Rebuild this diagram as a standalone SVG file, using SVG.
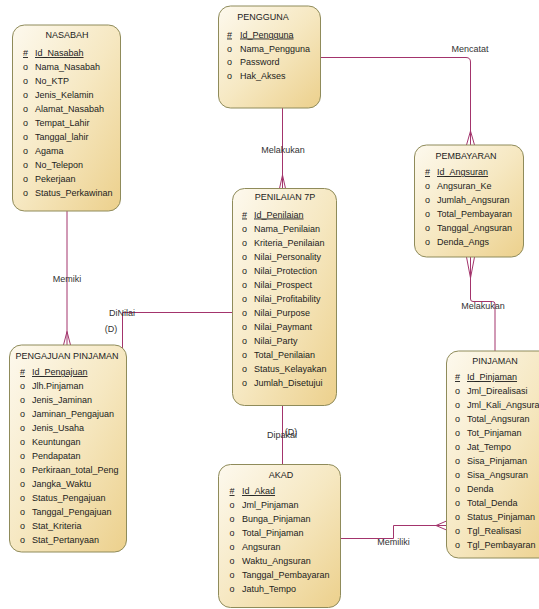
<svg xmlns="http://www.w3.org/2000/svg" width="539" height="609" viewBox="0 0 539 609">
<defs>
<linearGradient id="g" x1="0" y1="0" x2="1" y2="1">
<stop offset="0" stop-color="#fdf9ee"/>
<stop offset="0.5" stop-color="#f6e8c2"/>
<stop offset="1" stop-color="#ecd08c"/>
</linearGradient>
</defs>
<style>
text{font-family:"Liberation Sans",Arial,sans-serif;font-size:9px;fill:#1c1c1c}
.box{fill:url(#g);stroke:#8f8b5a;stroke-width:1}
.t{text-anchor:middle}
.u{text-decoration:underline}
.c{fill:none;stroke:#a3346c;stroke-width:1}
.l{text-anchor:middle;fill:#333}
</style>
<rect width="539" height="609" fill="#ffffff"/>
<g id="connectors">
<path class="c" d="M320.5,57.5 H466 Q470.5,57.5 470.5,62 V145 M470.5,131 L466.5,145 M470.5,131 L474.5,145"/>
<path class="c" d="M282.5,108 V188.5 M282.5,175 L279.5,188.5 M282.5,175 L285.5,188.5"/>
<path class="c" d="M470.5,257 V299 Q470.5,301.5 473,301.5 H492.5 Q495,301.5 495,304 V351 M470.5,278 L466.5,257 M470.5,278 L474.5,257"/>
<path class="c" d="M67,211 V345 M67,331.5 L63.5,345 M67,331.5 L70.5,345"/>
<path class="c" d="M232.5,312.5 H122.5 V348"/>
<path class="c" d="M282.5,405.5 V464.5"/>
<path class="c" d="M340.5,538.5 H393.5 V525.5 H446.5 M436,525.5 L446.5,521 M436,525.5 L446.5,530"/>
<text class="l" x="470" y="52">Mencatat</text>
<text class="l" x="283" y="152.5">Melakukan</text>
<text class="l" x="483" y="308.5">Melakukan</text>
<text class="l" x="67" y="281.5">Memiki</text>
<text class="l" x="122" y="316">DiNilai</text>
<text class="l" x="111" y="331.5">(D)</text>
<text class="l" x="282" y="438">Dipakai</text>
<text class="l" x="291" y="435">(D)</text>
<text class="l" x="393.5" y="545">Memiliki</text>
</g>
<g id="nasabah">
<rect class="box" x="12.5" y="25" width="108" height="186" rx="12"/>
<text class="t" x="67" y="38">NASABAH</text>
<text class="u" x="23" y="56">#</text><text class="u" x="35" y="56">Id_Nasabah</text>
<text x="23" y="70">o</text><text x="35" y="70">Nama_Nasabah</text>
<text x="23" y="84">o</text><text x="35" y="84">No_KTP</text>
<text x="23" y="98">o</text><text x="35" y="98">Jenis_Kelamin</text>
<text x="23" y="112">o</text><text x="35" y="112">Alamat_Nasabah</text>
<text x="23" y="126">o</text><text x="35" y="126">Tempat_Lahir</text>
<text x="23" y="140">o</text><text x="35" y="140">Tanggal_lahir</text>
<text x="23" y="154">o</text><text x="35" y="154">Agama</text>
<text x="23" y="168">o</text><text x="35" y="168">No_Telepon</text>
<text x="23" y="182">o</text><text x="35" y="182">Pekerjaan</text>
<text x="23" y="196">o</text><text x="35" y="196">Status_Perkawinan</text>
</g>
<g id="pengguna">
<rect class="box" x="218.5" y="6" width="102" height="102" rx="12"/>
<text class="t" x="263" y="20">PENGGUNA</text>
<text class="u" x="227" y="37.5">#</text><text class="u" x="240" y="37.5">Id_Pengguna</text>
<text x="227" y="51.5">o</text><text x="240" y="51.5">Nama_Pengguna</text>
<text x="227" y="65">o</text><text x="240" y="65">Password</text>
<text x="227" y="79">o</text><text x="240" y="79">Hak_Akses</text>
</g>
<g id="pembayaran">
<rect class="box" x="414.5" y="145" width="109" height="112" rx="12"/>
<text class="t" x="466" y="159">PEMBAYARAN</text>
<text class="u" x="425" y="175">#</text><text class="u" x="437" y="175">Id_Angsuran</text>
<text x="425" y="189">o</text><text x="437" y="189">Angsuran_Ke</text>
<text x="425" y="203">o</text><text x="437" y="203">Jumlah_Angsuran</text>
<text x="425" y="216.5">o</text><text x="437" y="216.5">Total_Pembayaran</text>
<text x="425" y="230.5">o</text><text x="437" y="230.5">Tanggal_Angsuran</text>
<text x="425" y="244.5">o</text><text x="437" y="244.5">Denda_Angs</text>
</g>
<g id="penilaian">
<rect class="box" x="232.5" y="188.5" width="104" height="217" rx="12"/>
<text class="t" x="285" y="200">PENILAIAN 7P</text>
<text class="u" x="242" y="217.5">#</text><text class="u" x="254" y="217.5">Id_Penilaian</text>
<text x="242" y="231.5">o</text><text x="254" y="231.5">Nama_Penilaian</text>
<text x="242" y="245.5">o</text><text x="254" y="245.5">Kriteria_Penilaian</text>
<text x="242" y="259.5">o</text><text x="254" y="259.5">Nilai_Personality</text>
<text x="242" y="273.5">o</text><text x="254" y="273.5">Nilai_Protection</text>
<text x="242" y="287.5">o</text><text x="254" y="287.5">Nilai_Prospect</text>
<text x="242" y="301.5">o</text><text x="254" y="301.5">Nilai_Profitability</text>
<text x="242" y="315.5">o</text><text x="254" y="315.5">Nilai_Purpose</text>
<text x="242" y="329.5">o</text><text x="254" y="329.5">Nilai_Paymant</text>
<text x="242" y="343.5">o</text><text x="254" y="343.5">Nilai_Party</text>
<text x="242" y="357.5">o</text><text x="254" y="357.5">Total_Penilaian</text>
<text x="242" y="371.5">o</text><text x="254" y="371.5">Status_Kelayakan</text>
<text x="242" y="385.5">o</text><text x="254" y="385.5">Jumlah_Disetujui</text>
</g>
<g id="pengajuan">
<rect class="box" x="9.5" y="345" width="117" height="207" rx="12"/>
<text class="t" x="67" y="358.5">PENGAJUAN PINJAMAN</text>
<text class="u" x="20" y="375">#</text><text class="u" x="32" y="375">Id_Pengajuan</text>
<text x="20" y="389">o</text><text x="32" y="389">Jlh.Pinjaman</text>
<text x="20" y="403">o</text><text x="32" y="403">Jenis_Jaminan</text>
<text x="20" y="417">o</text><text x="32" y="417">Jaminan_Pengajuan</text>
<text x="20" y="431">o</text><text x="32" y="431">Jenis_Usaha</text>
<text x="20" y="445">o</text><text x="32" y="445">Keuntungan</text>
<text x="20" y="459">o</text><text x="32" y="459">Pendapatan</text>
<text x="20" y="473">o</text><text x="32" y="473">Perkiraan_total_Peng</text>
<text x="20" y="487">o</text><text x="32" y="487">Jangka_Waktu</text>
<text x="20" y="501">o</text><text x="32" y="501">Status_Pengajuan</text>
<text x="20" y="515">o</text><text x="32" y="515">Tanggal_Pengajuan</text>
<text x="20" y="529">o</text><text x="32" y="529">Stat_Kriteria</text>
<text x="20" y="543">o</text><text x="32" y="543">Stat_Pertanyaan</text>
</g>
<g id="pinjaman">
<rect class="box" x="446.5" y="351" width="110" height="207" rx="12"/>
<text class="t" x="495" y="363.5">PINJAMAN</text>
<text class="u" x="455" y="380">#</text><text class="u" x="467" y="380">Id_Pinjaman</text>
<text x="455" y="394">o</text><text x="467" y="394">Jml_Direalisasi</text>
<text x="455" y="408">o</text><text x="467" y="408">Jml_Kali_Angsuran</text>
<text x="455" y="422">o</text><text x="467" y="422">Total_Angsuran</text>
<text x="455" y="436">o</text><text x="467" y="436">Tot_Pinjaman</text>
<text x="455" y="450">o</text><text x="467" y="450">Jat_Tempo</text>
<text x="455" y="464">o</text><text x="467" y="464">Sisa_Pinjaman</text>
<text x="455" y="478">o</text><text x="467" y="478">Sisa_Angsuran</text>
<text x="455" y="492">o</text><text x="467" y="492">Denda</text>
<text x="455" y="506">o</text><text x="467" y="506">Total_Denda</text>
<text x="455" y="520">o</text><text x="467" y="520">Status_Pinjaman</text>
<text x="455" y="534">o</text><text x="467" y="534">Tgl_Realisasi</text>
<text x="455" y="548">o</text><text x="467" y="548">Tgl_Pembayaran</text>
</g>
<g id="akad">
<rect class="box" x="218.5" y="464.5" width="122" height="143" rx="12"/>
<text class="t" x="281" y="477.5">AKAD</text>
<text class="u" x="229.5" y="494">#</text><text class="u" x="242" y="494">Id_Akad</text>
<text x="229.5" y="508">o</text><text x="242" y="508">Jml_Pinjaman</text>
<text x="229.5" y="522">o</text><text x="242" y="522">Bunga_Pinjaman</text>
<text x="229.5" y="536">o</text><text x="242" y="536">Total_Pinjaman</text>
<text x="229.5" y="550">o</text><text x="242" y="550">Angsuran</text>
<text x="229.5" y="564">o</text><text x="242" y="564">Waktu_Angsuran</text>
<text x="229.5" y="578">o</text><text x="242" y="578">Tanggal_Pembayaran</text>
<text x="229.5" y="592">o</text><text x="242" y="592">Jatuh_Tempo</text>
</g>
</svg>
